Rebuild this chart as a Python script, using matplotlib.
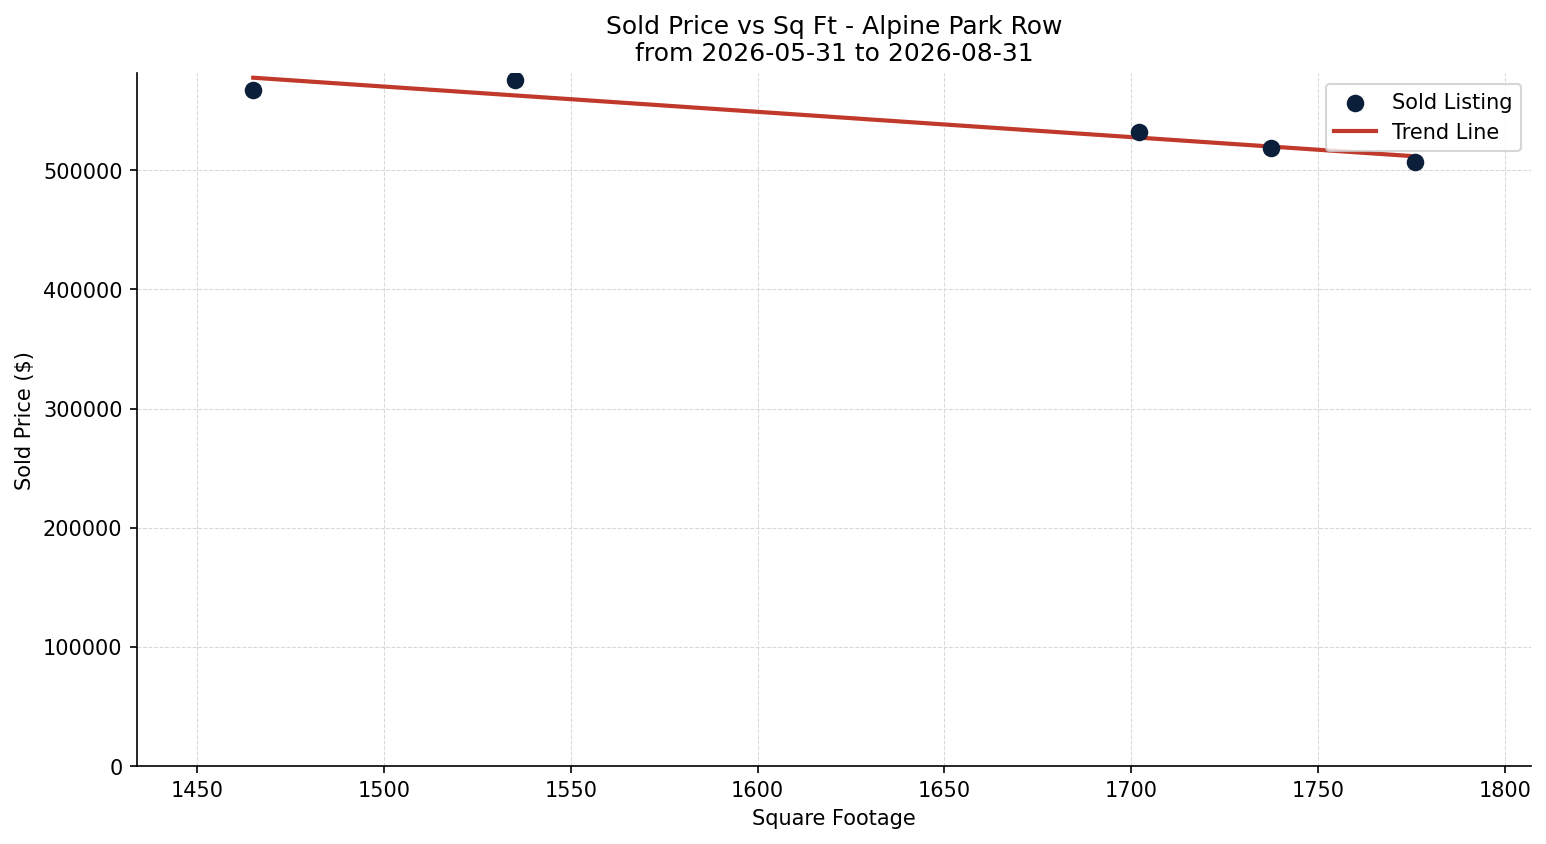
import numpy as np
import matplotlib
matplotlib.use("Agg")
import matplotlib.pyplot as plt

sqft = [1465, 1535, 1702, 1737.5, 1776]
price = [567000, 575500, 531900, 518500, 506700]

title = "Sold Price vs Sq Ft - Alpine Park Row\nfrom 2026-05-31 to 2026-08-31"

fig, ax = plt.subplots(figsize=(10.31, 5.63), dpi=150)

ax.scatter(sqft, price, color="#0b1f3a", s=55, zorder=3, label="Sold Listing")

# trend line from a linear fit
m, c = np.polyfit(sqft, price, 1)
xs = np.array([min(sqft), max(sqft)])
ax.plot(xs, m * xs + c, color="#c0392b", linewidth=2, zorder=2, label="Trend Line")

pad = (max(sqft) - min(sqft)) * 0.1
ax.set_xlim(min(sqft) - pad, max(sqft) + pad)
ax.set_ylim(0, max(price) * 1.01)

ax.set_title(title, fontsize=12)
ax.set_xlabel("Square Footage")
ax.set_ylabel("Sold Price ($)")
ax.grid(True, linestyle="--", linewidth=0.5, color="#d8d8d8")
ax.set_axisbelow(True)
ax.spines["top"].set_visible(False)
ax.spines["right"].set_visible(False)
ax.legend(loc="upper right")

fig.subplots_adjust(left=0.0886, right=0.9903, top=0.9124, bottom=0.0923)
fig.savefig("out.png", dpi=150)
